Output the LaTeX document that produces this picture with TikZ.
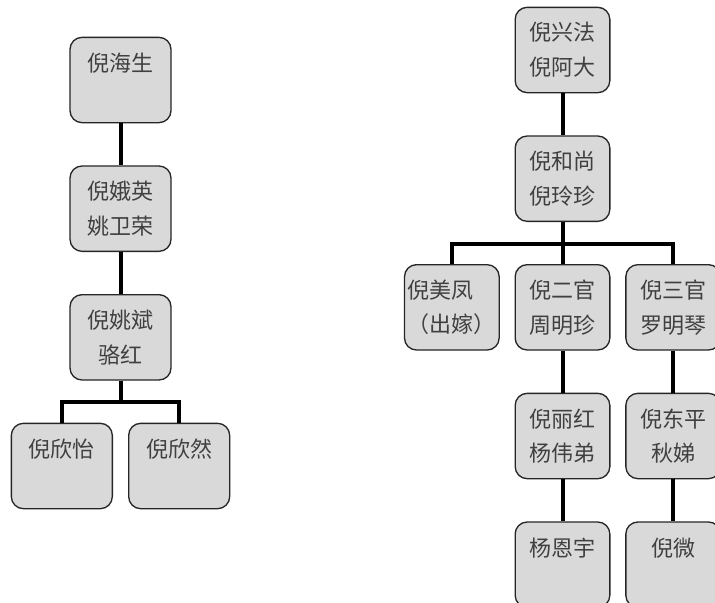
\documentclass[tikz,border=0pt]{standalone}
\usepackage{fontspec}
\newfontfamily\cjk{Noto Sans CJK SC}
\usetikzlibrary{positioning}

\begin{document}
\begin{tikzpicture}[x=0.75pt, y=-0.75pt,
  member/.style={draw=black!85, fill=black!15, rounded corners=9pt, line width=1pt,
    minimum width=71pt, minimum height=64pt, inner sep=2pt, align=center,
    text=black!75, font=\cjk\fontsize{16.5pt}{26pt}\selectfont},
  memberwide/.style={member, minimum width=75.75pt},
  link/.style={line width=3pt},
  node distance=31.5pt]
  \useasboundingbox[fill=white] (0,0) rectangle (715,603);
  % left family
  \node[memberwide] (hs) at (120.5,80) {倪海生\\\mbox{}};
  \node[memberwide, below=of hs] (ey) {倪娥英\\姚卫荣};
  \node[memberwide, below=of ey] (yb) {倪姚斌\\骆红};
  \node[memberwide, below=of yb, xshift=-44pt] (xy) {倪欣怡\\\mbox{}};
  \node[memberwide, below=of yb, xshift=44pt] (xr) {倪欣然\\\mbox{}};
  \draw[link] (hs) -- (ey);
  \draw[link] (ey) -- (yb);
  \draw[link] (yb.south) -- ++(0,21) -| (xy.north);
  \draw[link] (yb.south) -- ++(0,21) -| (xr.north);
  % right family
  \node[member] (xf) at (562.5,50) {倪兴法\\倪阿大};
  \node[member, below=of xf] (hsh) {倪和尚\\倪玲珍};
  \node[member, below=of hsh, xshift=-83pt, align=left] (mf) {倪美凤\\（出嫁）};
  \node[member, below=of hsh] (eg) {倪二官\\周明珍};
  \node[member, below=of hsh, xshift=83pt] (sg) {倪三官\\罗明琴};
  \node[member, below=of eg] (lh) {倪丽红\\杨伟弟};
  \node[member, below=of sg] (dp) {倪东平\\秋娣};
  \node[member, below=of lh] (eny) {杨恩宇\\\mbox{}};
  \node[member, below=of dp] (wei) {倪微\\\mbox{}};
  \draw[link] (xf) -- (hsh);
  \foreach \c in {mf,eg,sg}
    \draw[link] (hsh.south) -- ++(0,21.5) -| (\c.north);
  \draw[link] (eg) -- (lh);
  \draw[link] (sg) -- (dp);
  \draw[link] (lh) -- (eny);
  \draw[link] (dp) -- (wei);
\end{tikzpicture}
\end{document}
